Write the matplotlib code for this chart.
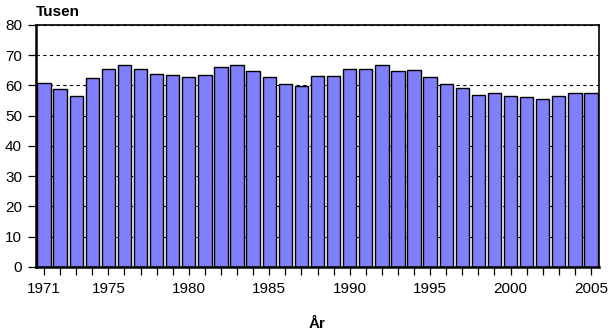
import matplotlib.pyplot as plt
import numpy as np

plt.rcParams['font.family'] = ['Liberation Sans', 'DejaVu Sans']

years = list(range(1971, 2006))
values = [60.7, 58.7, 56.4, 62.4, 65.4, 66.7, 65.4, 63.7, 63.4, 62.7,
          63.4, 66.0, 66.7, 64.7, 62.7, 60.4, 59.7, 63.0, 63.0, 65.4,
          65.4, 66.7, 64.7, 65.0, 62.7, 60.4, 59.1, 56.8, 57.4, 56.4,
          56.1, 55.4, 56.4, 57.4, 57.4]
label_years = [1971, 1975, 1980, 1985, 1990, 1995, 2000, 2005]

fig = plt.figure(figsize=(6.1, 3.32), dpi=100)
ax = fig.add_axes([0.059, 0.196, 0.923, 0.729])

x = np.arange(len(years))
ax.bar(x, values, width=0.83, color='#8080ff', edgecolor='black',
       linewidth=1.0, zorder=2)

ax.set_xlim(-0.5, len(years) - 0.5)
ax.set_ylim(0, 80)
ax.set_yticks(range(0, 81, 10))
ax.set_xticks(x)
ax.set_xticklabels([str(y) if y in label_years else '' for y in years])

ax.yaxis.grid(True, color='black', linestyle=(0, (3, 3)), linewidth=0.8)
ax.set_axisbelow(True)

ax.tick_params(axis='both', direction='out', length=6, width=0.9,
               labelsize=11, colors='black')
ax.tick_params(axis='y', pad=4)
ax.tick_params(axis='x', pad=5)

for side in ['top', 'right']:
    ax.spines[side].set_linewidth(1.2)
for side in ['left', 'bottom']:
    ax.spines[side].set_linewidth(1.8)

fig.text(0.059, 0.952, 'Tusen', fontsize=11, fontweight='bold', va='baseline')
fig.text(0.52, 0.012, 'År', fontsize=11, fontweight='bold', ha='center',
         va='baseline')

fig.savefig('out.png', dpi=100)
